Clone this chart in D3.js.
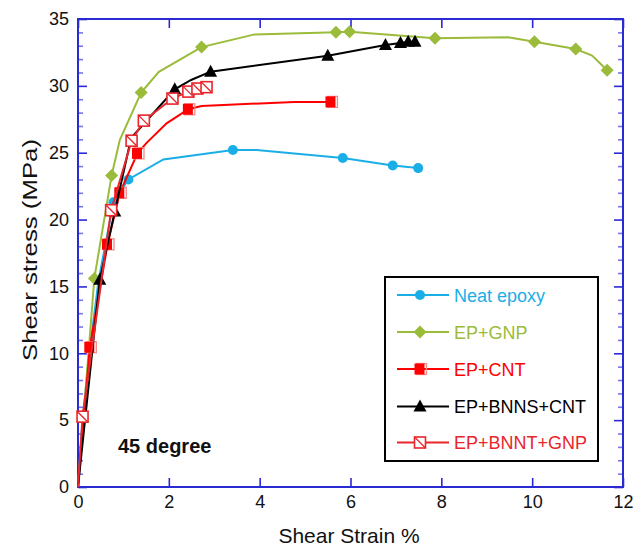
<!DOCTYPE html>
<html><head><meta charset="utf-8">
<script src="https://cdn.jsdelivr.net/npm/d3@7"></script>
<style>body{margin:0;background:#fff}svg{display:block}text{font-family:"Liberation Sans",Arial,sans-serif}</style>
</head><body><svg id="c" width="643" height="547"></svg>
<script>
// ---- data ----
const xTicks = [0, 2, 4, 6, 8, 10, 12];
const yTicks = [0, 5, 10, 15, 20, 25, 30, 35];
const seriesNames = ["Neat epoxy", "EP+GNP", "EP+CNT", "EP+BNNS+CNT", "EP+BNNT+GNP"];

const neatStrain = [0, 0.1, 0.25, 0.45, 0.78, 1.11, 1.88, 3.41, 3.93, 5.83, 6.93, 7.49];
const neatStress = [0, 5.0, 10.0, 15.4, 21.3, 23.0, 24.5, 25.2, 25.2, 24.6, 24.05, 23.85];
const neatMarker = [0, 0, 0, 0, 1, 1, 0, 1, 0, 1, 1, 1];

const gnpStrain = [0, 0.36, 0.74, 0.92, 1.39, 1.78, 2.72, 3.89, 5.68, 5.98, 7.86, 9.47, 10.05, 10.96, 11.32, 11.65];
const gnpStress = [0, 15.6, 23.3, 25.95, 29.5, 31.05, 32.9, 33.85, 34.0, 34.05, 33.56, 33.63, 33.3, 32.76, 32.26, 31.17];
const gnpMarker = [0, 1, 1, 0, 1, 0, 1, 0, 1, 1, 1, 0, 1, 1, 0, 1];

const cntStrain = [0, 0.26, 0.65, 0.92, 1.31, 1.5, 1.95, 2.43, 2.72, 4.76, 5.57];
const cntStress = [0, 10.45, 18.15, 22.0, 24.95, 25.7, 27.2, 28.25, 28.5, 28.8, 28.8];
const cntMarker = [0, 1, 1, 1, 1, 0, 0, 1, 0, 0, 1];

const bnnsStrain = [0, 0.48, 0.81, 1.17, 2.13, 2.49, 2.92, 5.5, 6.77, 7.1, 7.27, 7.42];
const bnnsStress = [0, 15.5, 20.6, 26.1, 29.74, 30.44, 31.06, 32.26, 33.06, 33.2, 33.3, 33.3];
const bnnsMarker = [0, 1, 1, 0, 1, 0, 1, 1, 1, 1, 1, 1];

const bnntStrain = [0, 0.1, 0.73, 1.18, 1.45, 2.08, 2.43, 2.63, 2.83];
const bnntStress = [0, 5.26, 20.7, 25.9, 27.4, 29.05, 29.57, 29.8, 29.9];
const bnntMarker = [0, 1, 1, 1, 1, 1, 1, 1, 1];

// ---- setup ----
const svg = d3.select("#c");
const L = 78, R = 623, T = 19, B = 487;
const x = d3.scaleLinear().domain([0, 12]).range([L, R]);
const y = d3.scaleLinear().domain([0, 35]).range([B, T]);
const axisCol = "#2a2ad4", minorCol = "#7777e6";

// axes
const minorY = d3.range(0, 36, 1).filter(v => v % 5 !== 0);
function axisG(axis, tf) { return svg.append("g").attr("transform", tf).call(axis); }
const styleAxis = g => { g.select(".domain").remove(); g.selectAll("line").attr("stroke", axisCol).attr("stroke-width", 1.6); g.selectAll("text").attr("fill", "#111").style("font-size", "18px"); };

axisG(d3.axisBottom(x).tickValues(xTicks).tickSizeInner(-9).tickSizeOuter(0).tickPadding(8), `translate(0,${B})`).call(styleAxis);
axisG(d3.axisTop(x).tickValues(xTicks).tickSizeInner(-9).tickSizeOuter(0).tickFormat(""), `translate(0,${T})`).call(styleAxis);
axisG(d3.axisLeft(y).tickValues(yTicks).tickSizeInner(-9).tickSizeOuter(0).tickPadding(9), `translate(${L},0)`).call(styleAxis);
axisG(d3.axisRight(y).tickValues(yTicks).tickSizeInner(-9).tickSizeOuter(0).tickFormat(""), `translate(${R},0)`).call(styleAxis);
const styleMinor = g => { g.select(".domain").remove(); g.selectAll("line").attr("stroke", minorCol).attr("stroke-width", 1.6); };
axisG(d3.axisLeft(y).tickValues(minorY).tickSizeInner(-5).tickSizeOuter(0).tickFormat(""), `translate(${L},0)`).call(styleMinor);
axisG(d3.axisRight(y).tickValues(minorY).tickSizeInner(-5).tickSizeOuter(0).tickFormat(""), `translate(${R},0)`).call(styleMinor);

svg.append("rect").attr("x", L).attr("y", T).attr("width", R - L).attr("height", B - T)
  .attr("fill", "none").attr("stroke", axisCol).attr("stroke-width", 2);

// axis titles
svg.append("text").attr("x", 349).attr("y", 543).attr("text-anchor", "middle").style("font-size", "21px").attr("fill", "#111").text("Shear Strain %");
svg.append("text").attr("transform", `translate(37,250) rotate(-90)`).attr("text-anchor", "middle").style("font-size", "21px")
  .attr("textLength", 222).attr("lengthAdjust", "spacingAndGlyphs").attr("fill", "#111").text("Shear stress (MPa)");

svg.append("text").attr("x", 118).attr("y", 453).style("font-size", "20px").style("font-weight", "bold").attr("fill", "#111").text("45 degree");

// ---- series ----
const colors = ["#1aaee6", "#9bbb3a", "#ff0000", "#000000", "#e8262b"];
const series = [
  { xs: neatStrain, ys: neatStress, ms: neatMarker, type: "circle" },
  { xs: gnpStrain, ys: gnpStress, ms: gnpMarker, type: "diamond" },
  { xs: cntStrain, ys: cntStress, ms: cntMarker, type: "square" },
  { xs: bnnsStrain, ys: bnnsStress, ms: bnnsMarker, type: "triangle" },
  { xs: bnntStrain, ys: bnntStress, ms: bnntMarker, type: "hsquare" }
];

function drawMarker(g, type, cx, cy, col) {
  if (type === "circle") {
    g.append("circle").attr("cx", cx).attr("cy", cy).attr("r", 5).attr("fill", col);
  } else if (type === "diamond") {
    g.append("path").attr("d", `M${cx},${cy - 6.5}L${cx + 6.5},${cy}L${cx},${cy + 6.5}L${cx - 6.5},${cy}Z`).attr("fill", col);
  } else if (type === "square") {
    g.append("rect").attr("x", cx - 3.5).attr("y", cy - 5.5).attr("width", 10).attr("height", 11).attr("fill", "none").attr("stroke", "#f28b8b").attr("stroke-width", 1.3);
    g.append("rect").attr("x", cx - 5.5).attr("y", cy - 5.5).attr("width", 10).attr("height", 11).attr("fill", col);
  } else if (type === "triangle") {
    g.append("path").attr("d", `M${cx},${cy - 7}L${cx + 6.5},${cy + 5}L${cx - 6.5},${cy + 5}Z`).attr("fill", col);
  } else if (type === "hsquare") {
    g.append("rect").attr("x", cx - 5.5).attr("y", cy - 5.5).attr("width", 11).attr("height", 11).attr("fill", "#fff").attr("stroke", col).attr("stroke-width", 1.6);
    g.append("line").attr("x1", cx - 5.5).attr("y1", cy - 5.5).attr("x2", cx + 5.5).attr("y2", cy + 5.5).attr("stroke", col).attr("stroke-width", 1.3);
  }
}

const line = d3.line().x(d => x(d[0])).y(d => y(d[1]));
series.forEach((s, i) => {
  const pts = s.xs.map((v, k) => [v, s.ys[k], s.ms[k]]);
  const g = svg.append("g");
  g.append("path").datum(pts).attr("d", line).attr("fill", "none").attr("stroke", colors[i]).attr("stroke-width", 2);
  pts.filter(p => p[2]).forEach(p => drawMarker(g, s.type, x(p[0]), y(p[1]), colors[i]));
});

// ---- legend ----
const lg = svg.append("g");
lg.append("rect").attr("x", 385).attr("y", 277).attr("width", 213).attr("height", 184).attr("fill", "#fff").attr("stroke", "#000").attr("stroke-width", 2);
const legY = [295, 332, 369, 406.5, 442.5];
seriesNames.forEach((name, i) => {
  lg.append("line").attr("x1", 397).attr("x2", 449).attr("y1", legY[i]).attr("y2", legY[i]).attr("stroke", colors[i]).attr("stroke-width", 2);
  drawMarker(lg, series[i].type, 420, legY[i], colors[i]);
  lg.append("text").attr("x", 454).attr("y", legY[i] + 6.5).style("font-size", "18px").attr("fill", colors[i]).text(name);
});
</script></body></html>
